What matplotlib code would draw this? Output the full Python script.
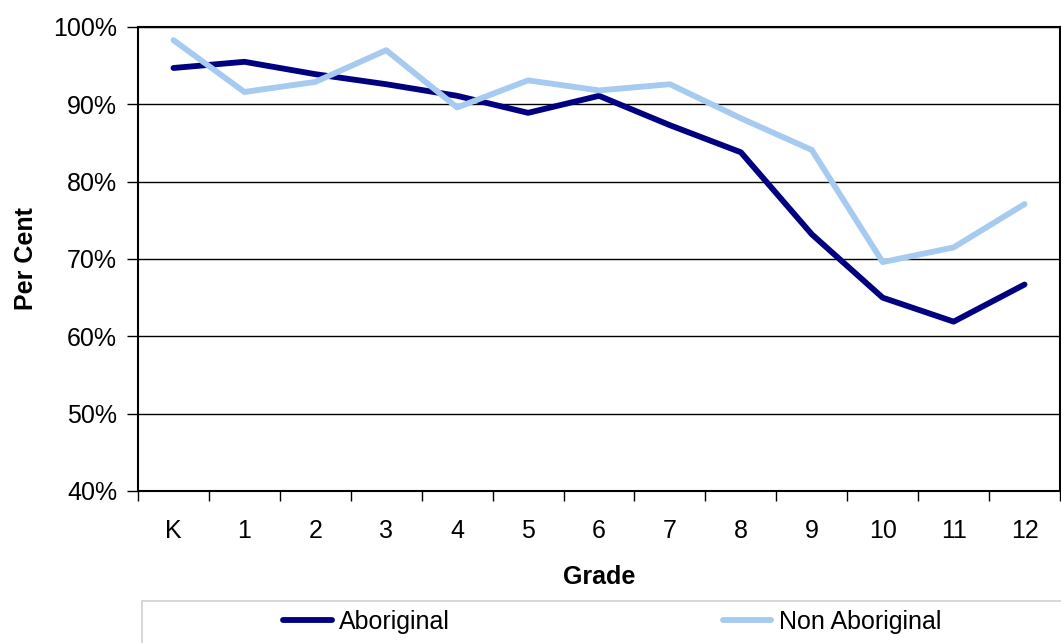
import matplotlib.pyplot as plt
from matplotlib.patches import Rectangle
from matplotlib.ticker import FuncFormatter, FixedLocator

plt.rcParams['font.family'] = ['Liberation Sans', 'DejaVu Sans']

grades = ['K', '1', '2', '3', '4', '5', '6', '7', '8', '9', '10', '11', '12']
aboriginal = [94.7, 95.5, 93.9, 92.6, 91.1, 88.9, 91.1, 87.3, 83.8, 73.2, 65.0, 61.9, 66.7]
non_aboriginal = [98.3, 91.6, 92.9, 97.0, 89.6, 93.1, 91.8, 92.6, 88.2, 84.1, 69.6, 71.5, 77.1]

fig = plt.figure(figsize=(10.61, 6.43), dpi=100)
ax = fig.add_axes([138 / 1061, 1 - 491 / 643, 922 / 1061, 464 / 643])

x = range(len(grades))
ax.plot(x, aboriginal, color='#000080', lw=4.2, label='Aboriginal', solid_capstyle='round')
ax.plot(x, non_aboriginal, color='#A6CAF0', lw=4.2, label='Non Aboriginal', solid_capstyle='round')

ax.set_xlim(-0.5, len(grades) - 0.5)
ax.set_ylim(40, 100)
ax.set_yticks(range(40, 101, 10))
ax.yaxis.set_major_formatter(FuncFormatter(lambda v, p: f'{v:.0f}%'))
ax.yaxis.grid(True, color='black', lw=1)
ax.set_axisbelow(True)

ax.set_xticks(list(x))
ax.set_xticklabels(grades)
ax.xaxis.set_minor_locator(FixedLocator([i - 0.5 for i in range(len(grades) + 1)]))
ax.tick_params(axis='x', which='major', length=0, pad=20, labelsize=18)
ax.tick_params(axis='x', which='minor', length=7, direction='out', width=1)
ax.tick_params(axis='y', length=8, direction='out', width=1, labelsize=18, pad=7)

for s in ax.spines.values():
    s.set_linewidth(1.5)

ax.set_xlabel('Grade', fontsize=18, fontweight='bold', labelpad=16)
ax.set_ylabel('Per Cent', fontsize=18, fontweight='bold', labelpad=11)

# legend frame at the bottom
fig.patches.append(Rectangle((142 / 1061, -0.01), 1, 42 / 643 + 0.01, transform=fig.transFigure,
                             fill=False, edgecolor='#d0d0d0', lw=1.2))
fig.legend(loc='center', bbox_to_anchor=(612 / 1061, 1 - 622 / 643), ncol=2, frameon=False,
           fontsize=18, handlelength=1.95, handletextpad=0.3, columnspacing=10.9)

fig.savefig('out.png', dpi=100)
